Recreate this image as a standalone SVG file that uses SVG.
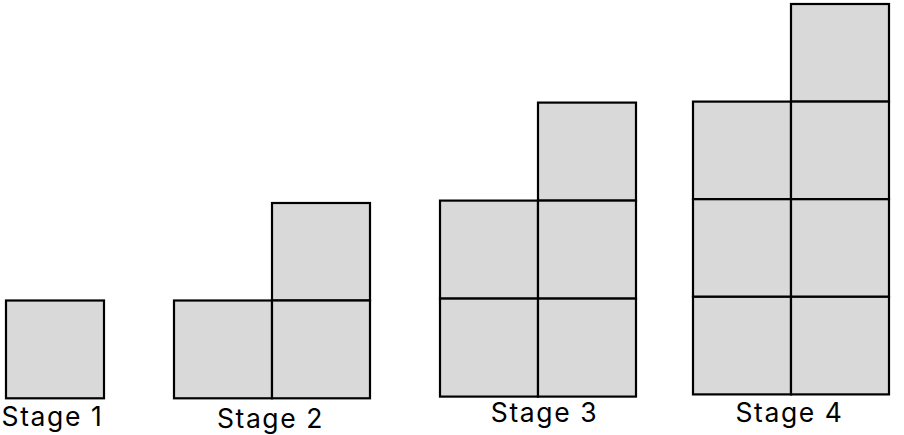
<svg xmlns="http://www.w3.org/2000/svg" width="904" height="435" viewBox="0 0 904 435">
<style>
.c{fill:#d9d9d9;stroke:#000;stroke-width:2.2}
.t{font-family:Inter,"Liberation Sans",sans-serif;font-size:26.5px;letter-spacing:1.6px;fill:#000;text-anchor:middle}
</style>
<rect width="904" height="435" fill="#fff"/>
<g id="stage1">
<rect class="c" x="6" y="300.5" width="98" height="97.8"/>
<text class="t" x="52.5" y="426">Stage 1</text>
</g>
<g id="stage2">
<rect class="c" x="272" y="203" width="98" height="97.5"/>
<rect class="c" x="174" y="300.5" width="98" height="97.8"/>
<rect class="c" x="272" y="300.5" width="98" height="97.8"/>
<text class="t" x="270.5" y="428">Stage 2</text>
</g>
<g id="stage3">
<rect class="c" x="538" y="102.6" width="98" height="98"/>
<rect class="c" x="440" y="200.6" width="98" height="98"/>
<rect class="c" x="538" y="200.6" width="98" height="98"/>
<rect class="c" x="440" y="298.6" width="98" height="98"/>
<rect class="c" x="538" y="298.6" width="98" height="98"/>
<text class="t" x="544.5" y="422">Stage 3</text>
</g>
<g id="stage4">
<rect class="c" x="791" y="4" width="98" height="97.6"/>
<rect class="c" x="693" y="101.6" width="98" height="97.6"/>
<rect class="c" x="791" y="101.6" width="98" height="97.6"/>
<rect class="c" x="693" y="199.2" width="98" height="97.6"/>
<rect class="c" x="791" y="199.2" width="98" height="97.6"/>
<rect class="c" x="693" y="296.8" width="98" height="97.6"/>
<rect class="c" x="791" y="296.8" width="98" height="97.6"/>
<text class="t" x="789.5" y="422">Stage 4</text>
</g>
</svg>
